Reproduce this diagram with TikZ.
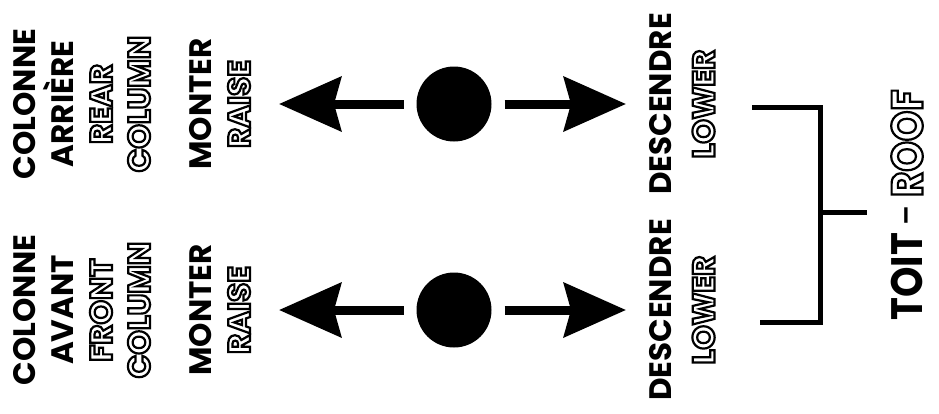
\documentclass[tikz,border=0pt]{standalone}
\usepackage{fontspec}
\setmainfont{Poppins}
\usetikzlibrary{arrows.meta}
\newcommand{\hollow}[1]{\special{pdf:literal direct 1 Tr 2.2 w}#1\special{pdf:literal direct 0 Tr}}

\begin{document}
\begin{tikzpicture}[x=1pt, y=-1pt,
dot/.style = {circle, fill, minimum size=#1,
            inner sep=0pt, outer sep=0pt},
dot/.default = 75pt,  % diameter of the control knob
lbl/.style = {rotate=90, align=center, inner sep=0pt,
            font=\bfseries\fontsize{31}{38}\selectfont},
arr/.style = {line width=9pt, shorten <=13pt,
            -{Stealth[length=62pt, width=54pt, inset=7pt]}},
brk/.style = {line width=5pt}
                ]
    \useasboundingbox (0,0) rectangle (939,413);

    % rear column on top, front column below
    \foreach \y/\n/\fr/\en in {104/r/ARRIÈRE/REAR, 310/f/AVANT/FRONT}{
        \node[lbl] at (82,\y) (col\n) {COLONNE\\\fr\\\hollow{\en}\\\hollow{COLUMN}};
        \node[lbl] at (220,\y) (up\n) {MONTER\\\hollow{RAISE}};
        \node[dot] at (454,\y) (knob\n) {};
        \coordinate (tipu\n) at (279,\y);
        \coordinate (tipd\n) at (626,\y);
        \draw[arr] (knob\n) -- (tipu\n);
        \draw[arr] (knob\n) -- (tipd\n);
        \node[lbl, font=\bfseries\fontsize{31}{43}\selectfont] at (682,\y) (down\n) {DESCENDRE\\\hollow{LOWER}};
    }

    \coordinate (bt) at (752,107);
    \coordinate (bc) at (820,322);
    \coordinate (bb) at (760,322);
    \coordinate (bm) at (820,212);
    \coordinate (bs) at (867,212);
    \draw[brk] (bt) -| (bc) -- (bb);
    \draw[brk] (bm) -- (bs);
    \node[lbl, font=\fontsize{44}{50}\selectfont\addfontfeature{FakeStretch=0.88}] at (907,205) (roof)
        {\textbf{TOIT}\,-\,\hollow{\textbf{ROOF}}};
\end{tikzpicture}
\end{document}
